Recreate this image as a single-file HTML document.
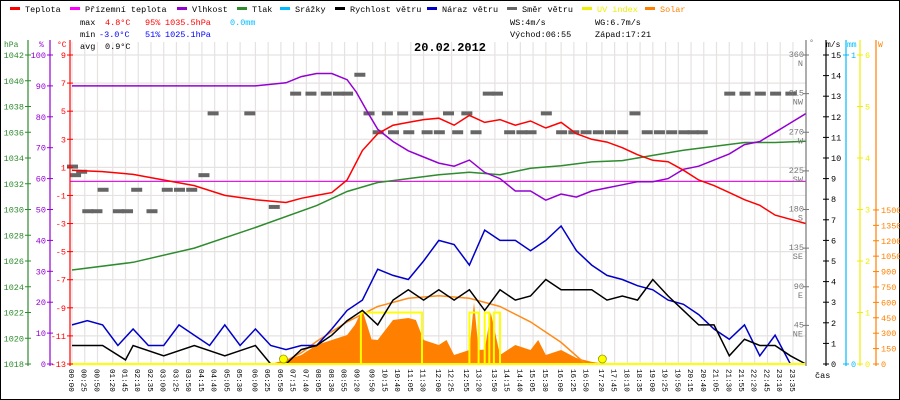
<!DOCTYPE html>
<html><head><meta charset="utf-8"><style>
html,body{margin:0;padding:0;background:#fff}
svg{display:block;font-family:"Liberation Mono","DejaVu Sans Mono",monospace}
</style></head><body>
<svg id="c" width="900" height="400" viewBox="0 0 900 400">
<rect x="0.5" y="0.5" width="899" height="399" fill="#fff" stroke="#000"/>
<g id="grid"></g>
<g id="series"></g>
<g id="axes"></g>
<g id="legend" font-size="8.5"></g>
<g font-size="8.5">
<text x="80" y="25">max</text>
<text x="105" y="25" fill="#f00">4.8°C</text>
<text x="145" y="25" fill="#f00">95%</text>
<text x="165" y="25" fill="#f00">1035.5hPa</text>
<text x="230" y="25" fill="#0bf">0.0mm</text>
<text x="80" y="37">min</text>
<text x="99" y="37" fill="#00f">-3.0°C</text>
<text x="145" y="37" fill="#00f">51%</text>
<text x="165" y="37" fill="#00f">1025.1hPa</text>
<text x="80" y="49">avg</text>
<text x="105" y="49">0.9°C</text>
<text x="510" y="25">WS:4m/s</text>
<text x="595" y="25">WG:6.7m/s</text>
<text x="510" y="37">Východ:06:55</text>
<text x="595" y="37">Západ:17:21</text>
<text x="414" y="51" font-size="12" font-weight="bold">20.02.2012</text>
</g>
</svg>
<script>
// ----- data -----
const tempTimes=[0,1,2,3,4,5,6,7,7.5,8,8.5,9,9.5,10,10.5,11,11.5,12,12.5,13,13.5,14,14.5,15,15.5,16,16.5,17,17.5,18,18.5,19,19.5,20,20.5,21,21.5,22,22.5,23,23.5,24];
const tempValues=[0.8,0.7,0.5,0.1,-0.3,-1.0,-1.3,-1.5,-1.2,-1.0,-0.8,0.1,2.2,3.4,4.0,4.2,4.4,4.5,4.0,4.7,4.2,4.4,4.0,4.3,3.8,4.2,3.4,3.0,2.8,2.4,1.9,1.5,1.4,0.8,0.1,-0.3,-0.8,-1.3,-1.7,-2.4,-2.7,-3.0];
const humTimes=[0,2,4,6,7,7.5,8,8.5,9,9.3,9.7,10,10.5,11,11.5,12,12.5,13,13.5,14,14.5,15,15.5,16,16.5,17,17.5,18,18.5,19,19.5,20,20.5,21,21.5,22,22.5,23,23.5,24];
const humValues=[90,90,90,90,91,93,94,94,92,88,81,76,72,69,67,65,64,66,62,60,56,56,53,55,54,56,57,58,59,59,60,63,64,66,68,71,72,75,78,81];
const pressTimes=[0,2,4,6,8,9,10,11,12,13,14,15,16,17,18,19,20,21,22,23,24];
const pressValues=[1025.3,1025.9,1027.0,1028.6,1030.3,1031.4,1032.1,1032.4,1032.7,1032.9,1032.7,1033.2,1033.4,1033.7,1033.8,1034.2,1034.6,1034.9,1035.2,1035.2,1035.3];
const windTimes=[0,1,1.75,2,3,4,5,6,6.5,7,7.5,8,8.5,9,9.5,10,10.5,11,11.5,12,12.5,13,13.5,14,14.5,15,15.5,16,16.5,17,17.5,18,18.5,19,19.5,20,20.5,21,21.5,22,22.5,23,23.5,24];
const windValues=[0.9,0.9,0.2,0.9,0.4,0.9,0.4,0.9,0,0,0.7,0.9,1.4,2.1,2.6,1.9,3.1,3.6,3.1,3.6,3.1,3.6,2.6,3.6,3.1,3.3,4.1,3.6,3.6,3.6,3.1,3.3,3.1,4.1,3.3,2.6,1.9,1.9,0.4,1.2,0.9,0.9,0.4,0];
const gustTimes=[0,0.5,1,1.5,2,2.5,3,3.5,4,4.5,5,5.5,6,6.5,7,7.5,8,8.5,9,9.5,10,10.5,11,11.5,12,12.5,13,13.5,14,14.5,15,15.5,16,16.5,17,17.5,18,18.5,19,19.5,20,20.5,21,21.5,22,22.5,23,23.5,24];
const gustValues=[1.9,2.1,1.9,0.9,1.7,0.9,0.9,1.9,1.4,0.9,1.9,0.9,1.7,0.9,0.7,0.9,0.9,1.7,2.6,3.1,4.6,4.3,4.1,5.0,6.0,5.8,4.8,6.5,6.0,6.0,5.5,6.0,6.7,5.5,4.8,4.3,4.1,3.8,3.6,3.1,2.9,2.4,1.7,1.2,1.9,0.4,1.4,0,0];
const solarTimes=[6.5,7,7.5,8,8.5,9,9.25,9.5,9.8,10,10.5,11,11.25,11.5,12,12.25,12.5,13,13.15,13.3,13.5,13.7,14,14.5,15,15.25,15.5,16,16.5,17,17.5];
const solarValues=[0,40,88,185,234,282,380,526,240,234,428,448,428,234,185,234,88,136,600,136,140,500,88,185,136,234,88,136,58,20,0];
const clearTimes=[6.8,7.5,8,9,10,11,12,13,14,15,16,16.8];
const clearValues=[0,110,220,410,560,640,665,640,560,410,210,0];
const uvTimes=[0,9.45,9.45,11.45,11.45,13.0,13.0,13.3,13.3,13.5,13.5,13.65,13.65,13.8,13.8,14.0,14.0,24];
const uvValues=[0,0,1,1,0,0,1,1,0,0,1,1,0,0,1,1,0,0];
const dirTimes=[0,0.1,0.3,0.5,0.8,1.0,1.5,1.8,2.1,2.6,3.1,3.5,3.9,4.3,4.6,5.8,6.6,7.3,7.8,8.3,8.7,9.0,9.4,9.7,10.0,10.3,10.5,10.8,11.0,11.3,11.6,12.0,12.3,12.6,12.9,13.2,13.6,13.9,14.3,14.7,15.0,15.5,16.0,16.4,16.8,17.2,17.6,18.0,18.4,18.8,19.2,19.6,20.0,20.3,20.6,21.5,22.0,22.5,23.0,23.5];
const dirValues=[230,220,224,178,178,203,178,178,203,178,203,203,203,220,292,292,183,315,315,315,315,315,337,292,270,292,270,292,270,292,270,270,292,270,292,270,315,315,270,270,270,292,270,270,270,270,270,270,292,270,270,270,270,270,270,315,315,315,315,315];
const xTickLabels=["00:00","00:25","00:50","01:20","01:45","02:10","02:35","03:00","03:25","03:50","04:15","04:40","05:05","05:30","06:00","06:25","06:50","07:15","07:40","08:05","08:30","08:55","09:20","09:50","10:15","10:40","11:05","11:30","12:00","12:25","12:55","13:20","13:50","14:15","14:40","15:05","15:30","16:00","16:25","16:50","17:20","17:45","18:10","18:35","19:00","19:25","19:50","20:15","20:40","21:05","21:30","21:55","22:20","22:45","23:10","23:35"];
const tempTicks=[9,7,5,3,1,-1,-3,-5,-7,-9,-11,-13];
const pressTicks=[1042,1040,1038,1036,1034,1032,1030,1028,1026,1024,1022,1020,1018];
const humTicks=[100,90,80,70,60,50,40,30,20,10,0];
const wsTicks=[0,1,2,3,4,5,6,7,8,9,10,11,12,13,14,15];
const dirTicks=[[45,"NE"],[90,"E"],[135,"SE"],[180,"S"],[225,"SW"],[270,"W"],[315,"NW"],[360,"N"]];
const uvTicks=[0,1,2,3,4,5,6];
const solarTicks=[0,150,300,450,600,750,900,1050,1200,1350,1500];
const sunEvents=[6.917,17.35];

// ----- scales -----
const X=h=>72+h*30.57;
const yT=t=>55+(9-t)*14.045;
const yP=p=>55+(1042-p)*12.875;
const yH=v=>55+(100-v)*3.09;
const yW=v=>364-v*20.6;
const yD=d=>364-d*0.8583;
const yS=w=>364-w*0.1027;
const yU=u=>364-u*51.5;
const NS="http://www.w3.org/2000/svg";
function mk(parent,tag,attrs){const e=document.createElementNS(NS,tag);for(const k in attrs)e.setAttribute(k,attrs[k]);parent.appendChild(e);return e;}
function pts(ts,vs,yf){return ts.map((t,i)=>X(t).toFixed(1)+","+yf(vs[i]).toFixed(1)).join(" ");}
const G=document.getElementById('grid'),S=document.getElementById('series'),A=document.getElementById('axes'),L=document.getElementById('legend');

// grid
xTickLabels.forEach(lb=>{const [h,m]=lb.split(':').map(Number);const x=X(h+m/60);
 const l=mk(G,'line',{x1:x,x2:x,y1:42,y2:364,stroke:'#e6e2e2','stroke-width':1.2});
 
 
 const tx=mk(A,'text',{x:0,y:0,transform:`translate(${x-3},369) rotate(90)`,'font-size':'7.6'});
 tx.textContent=lb;
 
 
});
tempTicks.forEach(t=>{const y=yT(t);
 const l=mk(G,'line',{x1:70,x2:806,y1:y,y2:y,stroke:'#e6e2e2','stroke-width':1.2});
 
 
});
const zl=mk(G,'line',{x1:70,x2:806,y1:yT(0),y2:yT(0),stroke:'#666','stroke-width':1});



// solar area
const sa=mk(S,'polygon',{points:X(solarTimes[0])+","+364+" "+pts(solarTimes,solarValues,yS)+" "+X(solarTimes[solarTimes.length-1])+",364",fill:'#ff8000'});


const cs=mk(S,'polyline',{points:pts(clearTimes,clearValues,yS),fill:'none',stroke:'#ff8c1a','stroke-width':1.5});


const uv=mk(S,'polyline',{points:pts(uvTimes,uvValues,yU),fill:'none',stroke:'#ffff00','stroke-width':2});


// wind direction
dirTimes.forEach((t,i)=>{const r=mk(S,'rect',{x:X(t)-5,y:yD(dirValues[i])-2,width:11,height:4,fill:'#666'});
 
 
});
const app=mk(S,'line',{x1:70,x2:806,y1:yT(0),y2:yT(0),stroke:'#f0f','stroke-width':1});


const series=[[gustTimes,gustValues,yW,'#0000c8','gust-line'],[windTimes,windValues,yW,'#000','wind-speed-line'],[pressTimes,pressValues,yP,'#2e8b2e','pressure-line'],[humTimes,humValues,yH,'#9400d3','humidity-line'],[tempTimes,tempValues,yT,'#f00','temperature-line']];
series.forEach(s=>{const p=mk(S,'polyline',{points:pts(s[0],s[1],s[2]),fill:'none',stroke:s[3],'stroke-width':1.5,'stroke-linejoin':'miter'});
 
 
});
const base=mk(S,'line',{x1:70,x2:806,y1:364,y2:364,stroke:'#ff0','stroke-width':2});


sunEvents.forEach(t=>{const c=mk(S,'circle',{cx:X(t),cy:359,r:4,fill:'#ff0',stroke:'#990','stroke-width':0.8});
 
 
});

// axes
function axis(x,col,ticks,yf,lab,side,name,tx){
 const l=mk(A,'line',{x1:x,x2:x,y1:40,y2:366,stroke:col,'stroke-width':1.2});
 
 
 ticks.forEach(v=>{const y=yf(v);mk(A,'line',{x1:x-3,x2:x+3,y1:y,y2:y,stroke:col});
  const t=mk(A,'text',{x:side<0?x-4:x+5,y:y+3,fill:col,'font-size':'8.5','text-anchor':side<0?'end':'start'});
  t.textContent=String(v);
  
  
 });
 const h=mk(A,'text',{x:tx,y:47,fill:col,'font-size':'8'});
 h.textContent=lab;
 
 
}
axis(28,'#2e8b2e',pressTicks,yP,'hPa',-1,'pressure-axis',4);
axis(50,'#9400d3',humTicks,yH,'%',-1,'humidity-axis',39);
axis(70,'#f00',tempTicks,yT,'°C',-1,'temp-axis',57);
axis(826,'#000',wsTicks,yW,'m/s',1,'wind-axis',826);
axis(846,'#0bf',[0,1],v=>364-v*309,'mm',1,'rain-axis',847);
axis(860,'#ee0',uvTicks,yU,'',1,'uv-axis',860);
axis(876,'#ff8000',solarTicks,yS,'W',1,'solar-axis',878);
const dl=mk(A,'line',{x1:806,x2:806,y1:40,y2:366,stroke:'#777','stroke-width':1.2});


dirTicks.forEach(d=>{const y=yD(d[0]);mk(A,'line',{x1:803,x2:809,y1:y,y2:y,stroke:'#777'});
 const t=mk(A,'text',{x:804,y:y+2,fill:'#777','font-size':'8.5','text-anchor':'end'});
 t.textContent=String(d[0]);
 
 
 const t2=mk(A,'text',{x:803,y:y+11,fill:'#777','font-size':'8.5','text-anchor':'end'});
 t2.textContent=d[1];
 
 
});
const dh=mk(A,'text',{x:809,y:45,fill:'#777','font-size':'8.5'});dh.textContent='°';


const ct=mk(A,'text',{x:815,y:378,'font-size':'8.5'});ct.textContent='čas';



// legend
const legendItems=[["Teplota","#f00",8],["Přízemní teplota","#f0f",68],["Vlhkost","#9400d3",175],["Tlak","#2e8b2e",235],["Srážky","#0bf",278],["Rychlost větru","#000",333],["Náraz větru","#0000c8",425],["Směr větru","#666",505],["UV index","#ee0",580],["Solar","#ff8000",643]];
legendItems.forEach(it=>{const r=mk(L,'rect',{x:it[2]+2,y:7,width:10,height:3,fill:it[1]});
 
 
 const t=mk(L,'text',{x:it[2]+17,y:12,fill:it[0]==="UV index"||it[0]==="Solar"?it[1]:'#000'});
 t.textContent=it[0];
 
 
});
</script>
</body></html>
